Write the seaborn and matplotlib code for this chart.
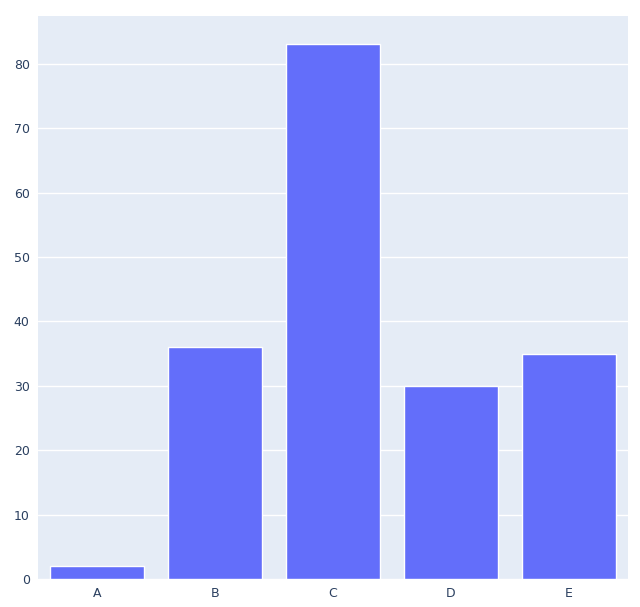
import matplotlib
matplotlib.use("Agg")
import matplotlib.pyplot as plt
import seaborn as sns
import pandas as pd

# values
categories = ["A", "B", "C", "D", "E"]
values = [2, 36, 83, 30, 35]

df = pd.DataFrame({"cat": categories, "val": values})

sns.set_style("white")
fig = plt.figure(figsize=(6.4, 6.07), dpi=100)
ax = fig.add_axes([38 / 640, 28 / 607, 590 / 640, 563 / 607])
ax.set_facecolor("#E5ECF6")

sns.barplot(data=df, x="cat", y="val", color="#636EFA", saturation=1, width=0.8, ax=ax)

ax.set_ylim(0, 87.4)
ax.set_xlim(-0.5, 4.5)
ax.set_yticks(range(0, 81, 10))
ax.yaxis.grid(True, color="white", linewidth=1)
ax.set_axisbelow(True)
ax.set_xlabel("")
ax.set_ylabel("")
for s in ax.spines.values():
    s.set_visible(False)
ax.tick_params(length=0, labelsize=9, labelcolor="#2a3f5f", pad=6)

fig.savefig("out.png", dpi=100, facecolor="white")
